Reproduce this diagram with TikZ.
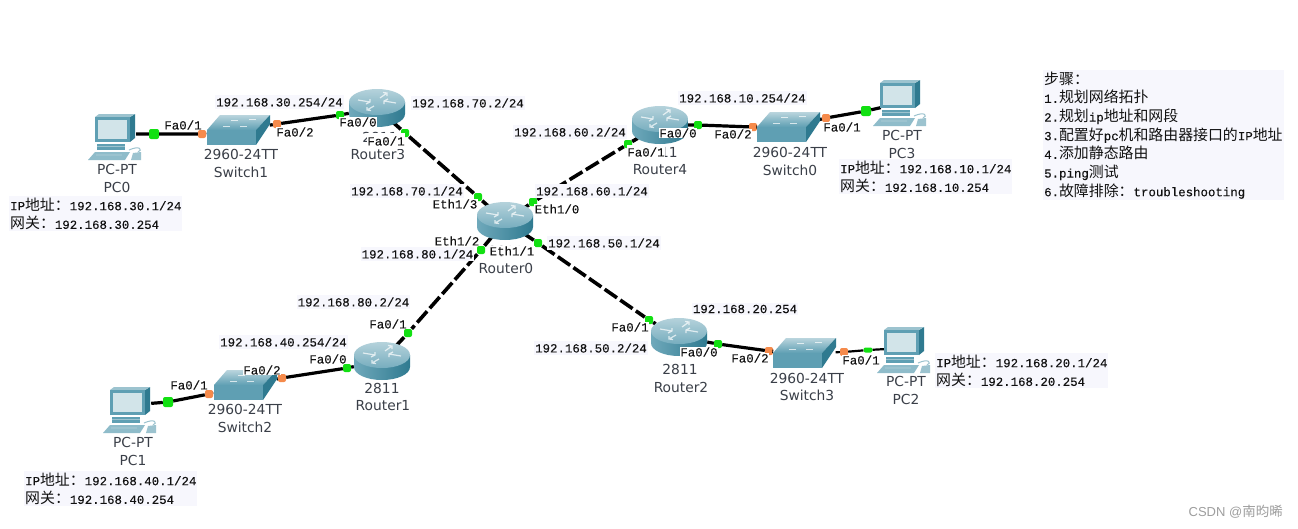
\documentclass[tikz,border=0pt]{standalone}
\usepackage{fontspec}
\newfontfamily\ipfont[FakeBold=0.2]{Liberation Mono}
\newfontfamily\devfont{DejaVu Sans}
\newfontfamily\zhfont{Noto Sans CJK SC}
\newfontfamily\wmfont{Liberation Sans}
\newcommand{\zh}[1]{{\zhfont\fontsize{14.9}{18.67}\selectfont #1}}
\newcommand{\wz}[1]{{\zhfont\fontsize{13.5}{16}\selectfont #1}}
\definecolor{panel}{HTML}{F7F7FD}
\definecolor{txt}{HTML}{111111}
\definecolor{devtxt}{HTML}{3A3F48}
\definecolor{portg}{HTML}{12E012}
\definecolor{porto}{HTML}{F58A4B}
\definecolor{tealA}{HTML}{5F9FB3}
\definecolor{tealB}{HTML}{2F7A90}
\definecolor{tealC}{HTML}{9CC3CF}
\usetikzlibrary{arrows.meta}
\tikzset{
  iplabel/.style={font=\ipfont\fontsize{12.4}{14}\selectfont,text=txt,fill=panel,inner xsep=1pt,inner ysep=2pt},
  iflabel/.style={font=\ipfont\fontsize{12.4}{14}\selectfont,text=txt,fill=white,inner xsep=0.5pt,inner ysep=0.5pt},
  devlabel/.style={font=\devfont\fontsize{13.8}{16}\selectfont,text=devtxt,inner sep=0pt},
  infobox/.style={font=\ipfont\fontsize{12.4}{18.67}\selectfont,text=txt,fill=panel,inner xsep=1pt,inner ysep=1pt,anchor=north west,align=left},
  devbox/.style={inner sep=0pt,minimum width=#1,minimum height=26pt},
  devbox/.default=40pt,
  gport/.style={rectangle,rounded corners=2pt,fill=portg,inner sep=0pt,minimum size=8pt},
  oport/.style={rectangle,rounded corners=2pt,fill=porto,inner sep=0pt,minimum size=8pt},
  link/.style={draw=black,line width=3.2pt},
  serial/.style={draw=black,line width=3.6pt,dash pattern=on 15pt off 4pt},
  pics/router/.style={code={
    \path[left color=tealA!90!white,middle color=tealC!35!white,right color=tealB] (-28,-6) -- (-28,6) arc[start angle=180,end angle=360,x radius=28pt,y radius=13pt] -- (28,-6) -- cycle;
    \path[top color=tealC!75!white,bottom color=tealA!85!white] (0,-6) ellipse[x radius=28pt,y radius=13pt];
    \draw[white,opacity=.7,line width=1.2pt] (-19,-8) -- (-7,-6) (-7,-9) -- (-7,-6) -- (-11,-4);
    \draw[white,opacity=.7,line width=1.2pt] (19,-5) -- (7,-7) (7,-4) -- (7,-7) -- (11,-9);
    \draw[white,opacity=.7,line width=1.2pt] (3,-10) -- (10,-15) (6,-15.5) -- (10,-15) -- (10,-12);
    \draw[white,opacity=.7,line width=1.2pt] (-3,-2) -- (-10,2) (-6,2.5) -- (-10,2) -- (-10,-1);
  }},
  pics/switch/.style={code={
    \path[top color=tealC!70!white,bottom color=tealA] (-31,0) -- (-18,-15) -- (32,-15) -- (18,0) -- cycle;
    \fill[tealA] (-31,0) rectangle (18,15);
    \fill[tealB] (18,0) -- (32,-15) -- (32,-6) -- (18,15) -- cycle;
    \draw[white,opacity=.7,line width=1pt] (-15,-4) -- (-8,-4) (-7,-10) -- (0,-10) (2,-4) -- (9,-4) (11,-11) -- (18,-11);
  }},
  pics/pc/.style={code={
    \fill[tealB] (14,-20) -- (19,-23) -- (19,1) -- (14,5) -- cycle;
    \fill[tealC] (-21,-20) -- (-17,-23) -- (19,-23) -- (14,-20) -- cycle;
    \fill[tealA] (-21,-20) rectangle (14,5);
    \fill[tealC!45!white] (-18,-17) rectangle (11,2);
    \fill[tealA] (-19,7) rectangle (9,13);
    \fill[tealC] (-19,9) rectangle (9,10);
    \fill[tealA!70!white] (-28,23) -- (-21,15) -- (14,15) -- (9,23) -- cycle;
    \fill[tealC] (-20,17) rectangle (6,19);
    \draw[tealC,line width=1pt] (13,13) .. controls (24,8) and (27,13) .. (22,15);
    \fill[tealC] (17,16) -- (25,15) -- (25,23) -- (15,23) -- cycle;
  }},
}
\begin{document}
\begin{tikzpicture}[x=1pt,y=-1pt]
\useasboundingbox (0,0) rectangle (1298,528);
\fill[white] (0,0) rectangle (1298,528);

% devices (anchors for connectors)
\node[devbox=40pt] (PC0) at (116,134) {};
\node[devbox=63pt] (Sw1) at (238,130) {};
\node[devbox=56pt] (R3) at (377,108) {};
\node[devbox=56pt] (R0) at (505,221) {};
\node[devbox=56pt] (R4) at (660,125) {};
\node[devbox=63pt] (Sw0) at (788,127) {};
\node[devbox=40pt] (PC3) at (901,103) {};
\node[devbox=56pt] (R1) at (382,361) {};
\node[devbox=63pt] (Sw2) at (245,385) {};
\node[devbox=40pt] (PC1) at (131,405) {};
\node[devbox=56pt] (R2) at (679,337) {};
\node[devbox=63pt] (Sw3) at (804,353) {};
\node[devbox=40pt] (PC2) at (905,348) {};

% ports
\node[gport,minimum size=10pt] (p1) at (154,134) {};
\node[oport] (p2) at (202,134) {};
\node[oport] (p3) at (277,124) {};
\node[gport] (p4) at (340,115) {};
\node[gport] (p5) at (405,133) {};
\node[gport] (p6) at (478,197) {};
\node[gport] (p7) at (533,202) {};
\node[gport] (p8) at (628,144) {};
\node[gport] (p9) at (698,125) {};
\node[oport] (p10) at (753,127) {};
\node[oport] (p11) at (826,118) {};
\node[gport,minimum size=10pt] (p12) at (866,111) {};
\node[gport] (p13) at (538,243) {};
\node[gport] (p14) at (649,320) {};
\node[gport] (p15) at (718,344) {};
\node[oport] (p16) at (769,351) {};
\node[oport] (p17) at (844,352) {};
\node[gport,minimum width=9pt,minimum height=5pt] (p18) at (868,350) {};
\node[gport] (p19) at (481,250) {};
\node[gport] (p20) at (408,333) {};
\node[gport] (p21) at (347,368) {};
\node[oport] (p22) at (282,378) {};
\node[oport] (p23) at (209,394) {};
\node[gport,minimum size=10pt] (p24) at (168,402) {};

% connectors
\draw[link] (PC0) -- (p1) -- (p2) -- (Sw1);
\draw[link] (Sw1) -- (p3) -- (p4) -- (R3);
\draw[link] (R4) -- (p9) -- (p10) -- (Sw0);
\draw[link] (Sw0) -- (p11) -- (p12) -- (PC3);
\draw[link] (R2) -- (p15) -- (p16) -- (Sw3);
\draw[link,line width=2.2pt] (Sw3) -- (p17) -- (p18) -- (PC2);
\draw[link] (R1) -- (p21) -- (p22) -- (Sw2);
\draw[link] (Sw2) -- (p23) -- (p24) -- (PC1);
\draw[serial] (R3) -- (p5) -- (p6) -- (R0);
\draw[serial] (R0) -- (p7) -- (p8) -- (R4);
\draw[serial] (R0) -- (p13) -- (p14) -- (R2);
\draw[serial] (R0) -- (p19) -- (p20) -- (R1);

% device drawings
\pic at (116,137) {pc};
\pic at (238,130) {switch};
\pic at (377,108) {router};
\pic at (505,221) {router};
\pic at (660,125) {router};
\pic at (788,127) {switch};
\pic at (901,103) {pc};
\pic at (382,361) {router};
\pic at (245,385) {switch};
\pic at (131,410) {pc};
\pic at (679,337) {router};
\pic at (804,353) {switch};
\pic at (905,350) {pc};

% device labels
\node[devlabel] (l1) at (117,169) {PC-PT};
\node[devlabel] (l2) at (117,187) {PC0};
\node[devlabel] (l3) at (241,154) {2960-24TT};
\node[devlabel] (l4) at (241,172) {Switch1};
\node[devlabel] (l5) at (380,137) {2811};
\node[devlabel] (l6) at (378,154) {Router3};
\node[devlabel] (l7) at (506,251) {2811};
\node[devlabel] (l8) at (506,268) {Router0};
\node[devlabel] (l9) at (660,152) {2811};
\node[devlabel] (l10) at (660,170) {Router4};
\node[devlabel] (l11) at (790,152) {2960-24TT};
\node[devlabel] (l12) at (790,170) {Switch0};
\node[devlabel] (l13) at (902,135) {PC-PT};
\node[devlabel] (l14) at (902,153) {PC3};
\node[devlabel] (l15) at (133,442) {PC-PT};
\node[devlabel] (l16) at (133,460) {PC1};
\node[devlabel] (l17) at (245,409) {2960-24TT};
\node[devlabel] (l18) at (245,427) {Switch2};
\node[devlabel] (l19) at (382,388) {2811};
\node[devlabel] (l20) at (383,406) {Router1};
\node[devlabel] (l21) at (680,369) {2811};
\node[devlabel] (l22) at (681,387) {Router2};
\node[devlabel] (l23) at (807,378) {2960-24TT};
\node[devlabel] (l24) at (807,395) {Switch3};
\node[devlabel] (l25) at (906,381) {PC-PT};
\node[devlabel] (l26) at (906,399) {PC2};

% interface labels
\node[iflabel] (f1) at (183,125) {Fa0/1};
\node[iflabel] (f2) at (295,132) {Fa0/2};
\node[iflabel] (f3) at (358,122) {Fa0/0};
\node[iflabel,inner ysep=3pt] (f4) at (386,141) {Fa0/1};
\node[iflabel] (f5) at (455,204) {Eth1/3};
\node[iflabel] (f6) at (557,209) {Eth1/0};
\node[iflabel] (f7) at (457,241) {Eth1/2};
\node[iflabel] (f8) at (512,251) {Eth1/1};
\node[iflabel] (f9) at (678,133) {Fa0/0};
\node[iflabel] (f10) at (733,134) {Fa0/2};
\node[iflabel] (f11) at (842,127) {Fa0/1};
\node[iflabel,inner ysep=2pt] (f12) at (646,152) {Fa0/1};
\node[iflabel] (f13) at (189,385) {Fa0/1};
\node[iflabel] (f14) at (262,370) {Fa0/2};
\node[iflabel] (f15) at (328,359) {Fa0/0};
\node[iflabel] (f16) at (388,324) {Fa0/1};
\node[iflabel] (f17) at (630,327) {Fa0/1};
\node[iflabel] (f18) at (699,352) {Fa0/0};
\node[iflabel] (f19) at (750,358) {Fa0/2};
\node[iflabel] (f20) at (861,360) {Fa0/1};

% address labels
\node[iplabel] (a1) at (279.5,102) {192.168.30.254/24};
\node[iplabel] (a2) at (468,103) {192.168.70.2/24};
\node[iplabel] (a3) at (742.5,98) {192.168.10.254/24};
\node[iplabel] (a4) at (570,132) {192.168.60.2/24};
\node[iplabel] (a5) at (407,191) {192.168.70.1/24};
\node[iplabel] (a6) at (592,191) {192.168.60.1/24};
\node[iplabel] (a7) at (417.5,254) {192.168.80.1/24};
\node[iplabel] (a8) at (604,243) {192.168.50.1/24};
\node[iplabel] (a9) at (353.5,302) {192.168.80.2/24};
\node[iplabel] (a10) at (283.5,342) {192.168.40.254/24};
\node[iplabel] (a11) at (745,309) {192.168.20.254};
\node[iplabel] (a12) at (591,348) {192.168.50.2/24};

% info blocks
\node[infobox] (b1) at (9,196) {\rule{0pt}{13pt}IP\zh{地址：}192.168.30.1/24\\\zh{网关：}192.168.30.254};
\node[infobox] (b2) at (24,471) {\rule{0pt}{13pt}IP\zh{地址：}192.168.40.1/24\\\zh{网关：}192.168.40.254};
\node[infobox] (b3) at (839,159) {\rule{0pt}{13pt}IP\zh{地址：}192.168.10.1/24\\\zh{网关：}192.168.10.254};
\node[infobox] (b4) at (935,353) {\rule{0pt}{13pt}IP\zh{地址：}192.168.20.1/24\\\zh{网关：}192.168.20.254};
\node[infobox] (steps) at (1043,70) {\rule{0pt}{13pt}\zh{步骤：}\\1.\zh{规划网络拓扑}\\2.\zh{规划}ip\zh{地址和网段}\\3.\zh{配置好}pc\zh{机和路由器接口的}IP\zh{地址}\\4.\zh{添加静态路由}\\5.ping\zh{测试}\\6.\zh{故障排除：}troubleshooting};

% watermark
\node[font=\wmfont\fontsize{13}{15}\selectfont,text=black!38,inner sep=0pt,anchor=east] (wm) at (1283,512) {CSDN @\wz{南昀晞}};
\end{tikzpicture}
\end{document}
